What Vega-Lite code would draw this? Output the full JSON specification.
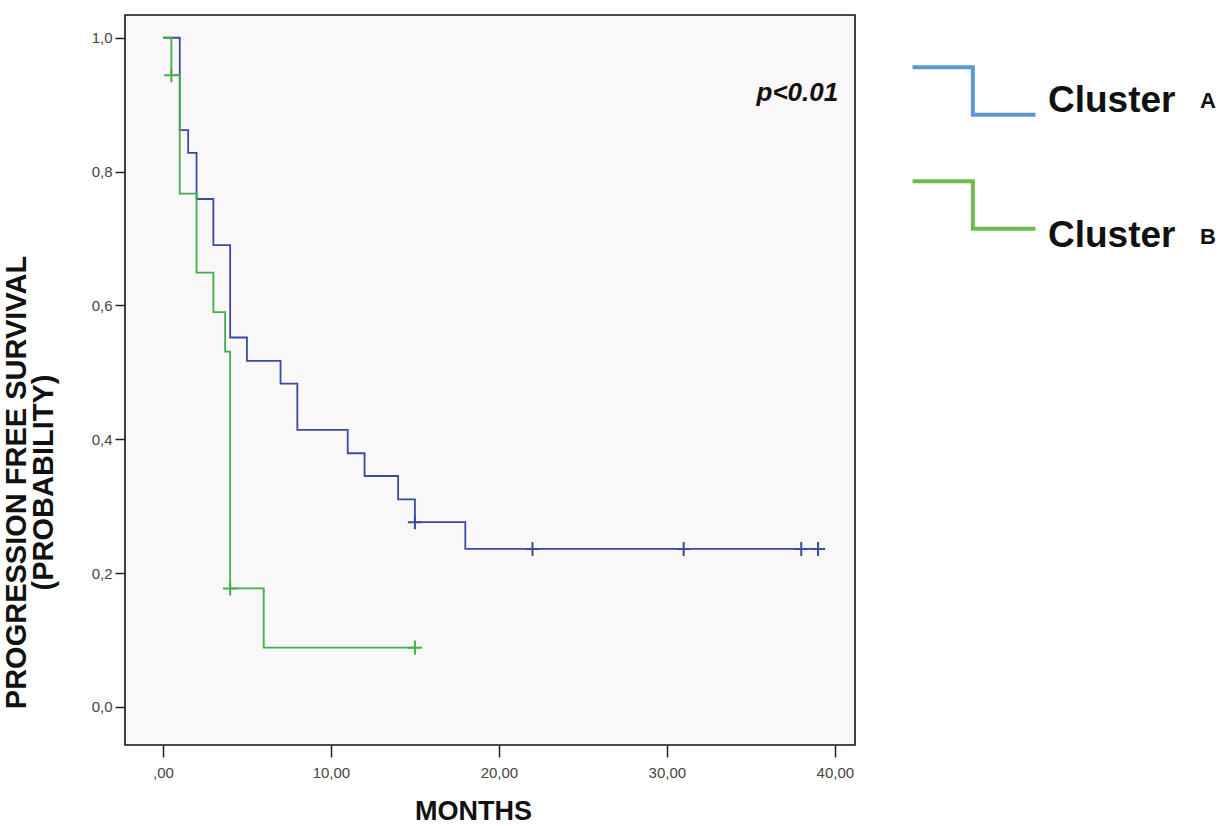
{
  "$schema": "https://vega.github.io/schema/vega-lite/v6.json",
  "autosize": "none",
  "width": 730,
  "height": 730,
  "padding": {"left": 125, "top": 15, "right": 365, "bottom": 81},
  "background": "#ffffff",
  "config": {
    "view": {"fill": "#f9f7f7", "stroke": "#111111", "strokeWidth": 1.6},
    "axis": {
      "grid": false,
      "domain": false,
      "tickColor": "#222222",
      "tickWidth": 1.5,
      "labelFont": "Liberation Sans",
      "labelColor": "#444444",
      "labelFontSize": 15,
      "titleFont": "Liberation Sans",
      "titleFontWeight": "bold",
      "titleColor": "#111111"
    }
  },
  "datasets": {
    "curves": [
      {"cluster": "A", "month": 0, "survival": 1.0},
      {"cluster": "A", "month": 1, "survival": 0.862},
      {"cluster": "A", "month": 1.5, "survival": 0.828},
      {"cluster": "A", "month": 2, "survival": 0.759},
      {"cluster": "A", "month": 3, "survival": 0.69},
      {"cluster": "A", "month": 4, "survival": 0.552},
      {"cluster": "A", "month": 5, "survival": 0.517},
      {"cluster": "A", "month": 7, "survival": 0.483},
      {"cluster": "A", "month": 8, "survival": 0.414},
      {"cluster": "A", "month": 11, "survival": 0.379},
      {"cluster": "A", "month": 12, "survival": 0.345},
      {"cluster": "A", "month": 14, "survival": 0.31},
      {"cluster": "A", "month": 15, "survival": 0.276},
      {"cluster": "A", "month": 18, "survival": 0.236},
      {"cluster": "A", "month": 39, "survival": 0.236},
      {"cluster": "B", "month": 0, "survival": 1.0},
      {"cluster": "B", "month": 0.5, "survival": 0.944},
      {"cluster": "B", "month": 1, "survival": 0.767},
      {"cluster": "B", "month": 2, "survival": 0.649},
      {"cluster": "B", "month": 3, "survival": 0.59},
      {"cluster": "B", "month": 3.7, "survival": 0.531},
      {"cluster": "B", "month": 4, "survival": 0.177},
      {"cluster": "B", "month": 6, "survival": 0.0885},
      {"cluster": "B", "month": 15, "survival": 0.0885}
    ],
    "censored": [
      {"group": "A", "month": 15, "survival": 0.276},
      {"group": "A", "month": 22, "survival": 0.236},
      {"group": "A", "month": 31, "survival": 0.236},
      {"group": "A", "month": 38, "survival": 0.236},
      {"group": "A", "month": 39, "survival": 0.236},
      {"group": "B", "month": 0.5, "survival": 0.944},
      {"group": "B", "month": 4, "survival": 0.177},
      {"group": "B", "month": 15, "survival": 0.0885}
    ],
    "note": [
      {"label": "p<0.01", "month": 40.2, "survival": 0.918}
    ]
  },
  "layer": [
    {
      "data": {"name": "curves"},
      "mark": {"type": "line", "interpolate": "step-after", "strokeWidth": 1.8, "opacity": 0, "clip": true},
      "encoding": {
        "x": {
          "field": "month", "type": "quantitative",
          "scale": {"domain": [-2.26, 41.2], "nice": false, "zero": false},
          "axis": {
            "values": [0, 10, 20, 30, 40],
            "tickSize": 12,
            "labelPadding": 8,
            "labelExpr": "datum.value == 0 ? ',00' : replace(format(datum.value, '.2f'), '.', ',')",
            "title": "MONTHS",
            "titleFontSize": 27,
            "titleX": 348,
            "titleY": 66,
            "titleBaseline": "middle"
          }
        },
        "y": {
          "field": "survival", "type": "quantitative",
          "scale": {"domain": [-0.057, 1.034], "nice": false, "zero": false},
          "axis": {
            "values": [0, 0.2, 0.4, 0.6, 0.8, 1.0],
            "tickSize": 10,
            "labelPadding": 3,
            "labelExpr": "replace(format(datum.value, '.1f'), '.', ',')",
            "title": ["PROGRESSION FREE SURVIVAL", "(PROBABILITY)"],
            "titleFontSize": 29,
            "titleLineHeight": 27,
            "titleX": -94,
            "titleY": 467,
            "titleAngle": -90,
            "titleAlign": "center"
          }
        },
        "color": {
          "field": "cluster", "type": "nominal",
          "scale": {"domain": ["A", "B"], "range": ["#5b97d4", "#6cbd50"]},
          "legend": {
            "orient": "none",
            "legendX": 789,
            "legendY": 16,
            "title": null,
            "padding": 0,
            "rowPadding": 22,
            "symbolType": "M-1.06,-0.41L-0.02,-0.41L-0.02,0.41L1.06,0.41",
            "symbolSize": 13456,
            "symbolStrokeWidth": 4,
            "symbolOpacity": 1,
            "symbolFillColor": "transparent",
            "labelOffset": 14,
            "labelExpr": "'Cluster'",
            "labelFont": "Liberation Sans",
            "labelFontWeight": "bold",
            "labelFontSize": 37,
            "labelColor": "#111111",
            "labelLimit": 300,
            "encode": {
              "symbols": {"update": {"opacity": {"value": 1}, "strokeOpacity": {"value": 1}}},
              "labels": {
                "update": {
                  "dy": {"signal": "10 + 21 * datum.index"}
                }
              }
            }
          }
        }
      }
    },
    {
      "data": {"name": "curves"},
      "mark": {"type": "line", "interpolate": "step-after", "strokeWidth": 1.8, "clip": true},
      "encoding": {
        "x": {"field": "month", "type": "quantitative"},
        "y": {"field": "survival", "type": "quantitative"},
        "stroke": {
          "field": "cluster", "type": "nominal",
          "scale": {"range": ["#3a4b9e", "#45ad4d"]},
          "legend": null
        }
      }
    },
    {
      "data": {"name": "censored"},
      "mark": {"type": "point", "shape": "M-1,0L1,0M0,-1L0,1", "size": 200, "filled": false, "strokeWidth": 2},
      "encoding": {
        "x": {"field": "month", "type": "quantitative"},
        "y": {"field": "survival", "type": "quantitative"},
        "stroke": {"field": "group", "type": "nominal", "legend": null},
        "opacity": {
          "field": "group", "type": "nominal",
          "scale": {"range": [1, 1]},
          "legend": {
            "orient": "none",
            "legendX": 959,
            "legendY": 28,
            "title": null,
            "padding": 0,
            "rowPadding": 20,
            "symbolType": "circle",
            "symbolSize": 13456,
            "symbolOpacity": 0,
            "symbolStrokeWidth": 0,
            "labelOffset": 0,
            "labelFont": "Liberation Sans",
            "labelFontWeight": "bold",
            "labelFontSize": 22,
            "labelColor": "#111111"
          }
        }
      }
    },
    {
      "data": {"name": "note"},
      "mark": {"type": "text", "align": "right", "baseline": "middle", "fontSize": 26, "fontStyle": "italic", "fontWeight": "bold", "font": "Liberation Sans", "color": "#111111"},
      "encoding": {
        "x": {"field": "month", "type": "quantitative"},
        "y": {"field": "survival", "type": "quantitative"},
        "text": {"field": "label"}
      }
    }
  ]
}
